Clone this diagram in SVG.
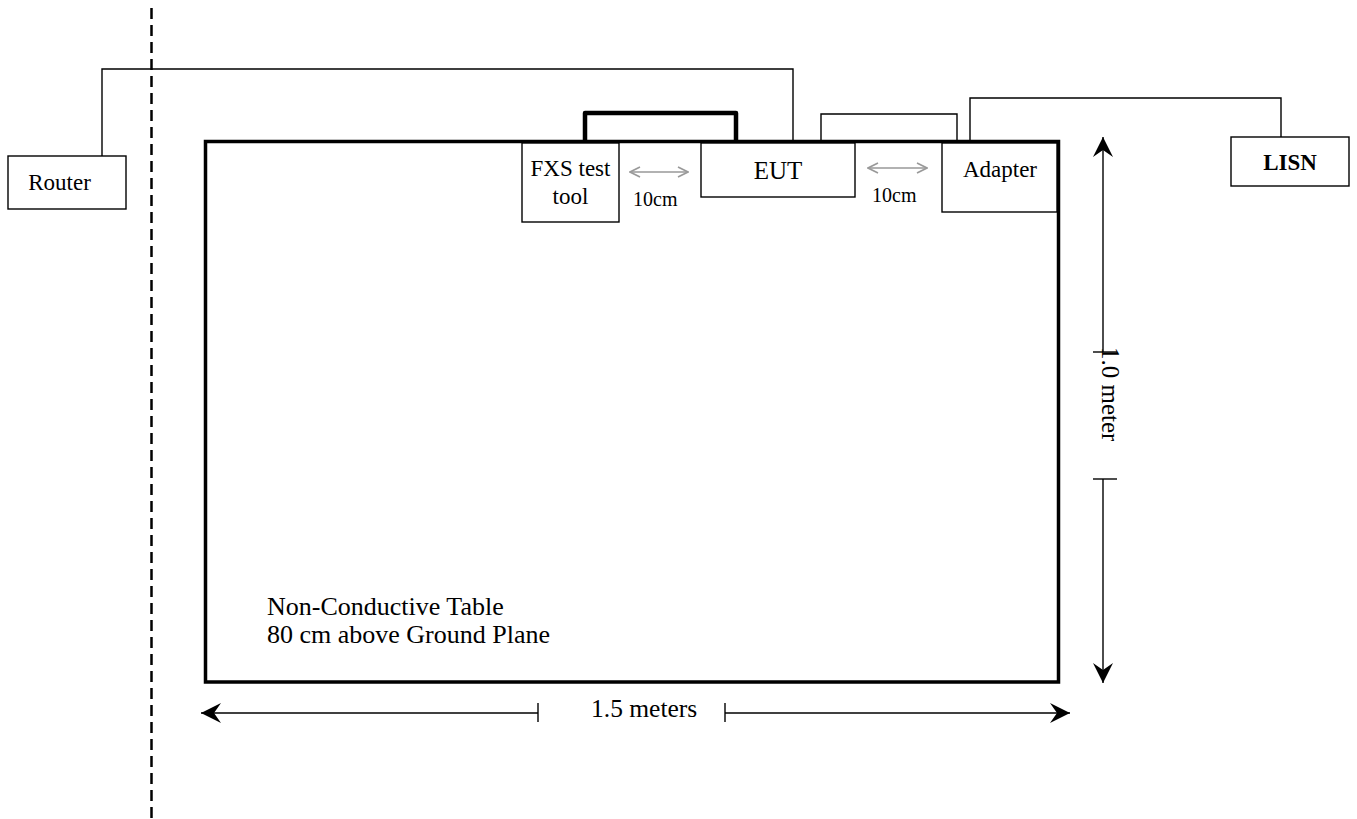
<svg xmlns="http://www.w3.org/2000/svg" width="1357" height="819" viewBox="0 0 1357 819">
<defs>
<style>
.box{fill:#fff;stroke:#000;stroke-width:1.4}
.wire{fill:none;stroke:#000;stroke-width:1.4}
.t{font-family:"Liberation Serif","Times New Roman",serif;font-size:23px;fill:#000}
.dim{fill:none;stroke:#000;stroke-width:1.4}
.gray{fill:none;stroke:#999;stroke-width:1.6}
</style>
<marker id="ah" viewBox="0 0 20 20" refX="20" refY="10" markerWidth="20" markerHeight="20" markerUnits="userSpaceOnUse" orient="auto-start-reverse">
<path d="M20,10 L0,0 L7,10 L0,20 Z" fill="#000"/>
</marker>
<marker id="gh" viewBox="0 0 12 12" refX="11" refY="6" markerWidth="12" markerHeight="12" markerUnits="userSpaceOnUse" orient="auto-start-reverse">
<path d="M1,1 L11,6 L1,11" fill="none" stroke="#999" stroke-width="1.6"/>
</marker>
</defs>
<rect width="1357" height="819" fill="#fff"/>

<g id="boundary">
<line x1="151.5" y1="8" x2="151.5" y2="819" stroke="#000" stroke-width="2.5" stroke-dasharray="11 6"/>
</g>

<g id="table">
<rect x="205.5" y="141.5" width="853" height="540.5" fill="none" stroke="#000" stroke-width="3.5"/>
<text class="t" x="267" y="615" style="font-size:26px">Non-Conductive Table</text>
<text class="t" x="267" y="643" style="font-size:26px">80 cm above Ground Plane</text>
</g>

<g id="connectors">
<polyline class="wire" points="102,156 102,69 793,69 793,143"/>
<polyline points="585,141 585,113 736,113 736,141" fill="none" stroke="#000" stroke-width="4.5" stroke-linejoin="round"/>
<polyline class="wire" points="821,141 821,114 957,114 957,141"/>
<polyline class="wire" points="970,141 970,98 1281,98 1281,137"/>
<line class="gray" x1="630" y1="172" x2="688" y2="172" marker-start="url(#gh)" marker-end="url(#gh)"/>
<line class="gray" x1="868" y1="168" x2="927" y2="168" marker-start="url(#gh)" marker-end="url(#gh)"/>
</g>

<g id="router">
<rect class="box" x="8" y="156" width="118" height="53"/>
<text class="t" x="59.5" y="190" text-anchor="middle">Router</text>
</g>

<g id="fxs">
<rect class="box" x="522" y="143" width="97" height="79"/>
<text class="t" x="570.5" y="176" text-anchor="middle">FXS test</text>
<text class="t" x="570.5" y="204" text-anchor="middle">tool</text>
</g>

<g id="eut">
<rect class="box" x="701" y="143" width="154" height="54"/>
<text class="t" x="778" y="179" text-anchor="middle" style="font-size:25px">EUT</text>
</g>

<g id="adapter">
<rect class="box" x="942" y="143" width="115" height="69"/>
<text class="t" x="1000" y="177" text-anchor="middle">Adapter</text>
</g>

<g id="lisn">
<rect class="box" x="1231" y="137" width="118" height="49"/>
<text class="t" x="1290" y="170" text-anchor="middle" font-weight="bold">LISN</text>
</g>

<g id="labels">
<text class="t" x="633" y="206" style="font-size:20px">10cm</text>
<text class="t" x="872" y="202" style="font-size:20px">10cm</text>
</g>

<g id="dimensions">
<line class="dim" x1="1103" y1="352" x2="1103" y2="137" marker-end="url(#ah)"/>
<line class="dim" x1="1093" y1="352" x2="1117" y2="352"/>
<line class="dim" x1="1103" y1="479" x2="1103" y2="683" marker-end="url(#ah)"/>
<line class="dim" x1="1093" y1="479" x2="1117" y2="479"/>
<text class="t" transform="translate(1102,347) rotate(90)" style="font-size:25px">1.0 meter</text>
<line class="dim" x1="538" y1="713" x2="201" y2="713" marker-end="url(#ah)"/>
<line class="dim" x1="538" y1="703" x2="538" y2="722"/>
<line class="dim" x1="725" y1="713" x2="1070" y2="713" marker-end="url(#ah)"/>
<line class="dim" x1="725" y1="703" x2="725" y2="722"/>
<text class="t" x="591" y="717" style="font-size:25.5px">1.5 meters</text>
</g>
</svg>
